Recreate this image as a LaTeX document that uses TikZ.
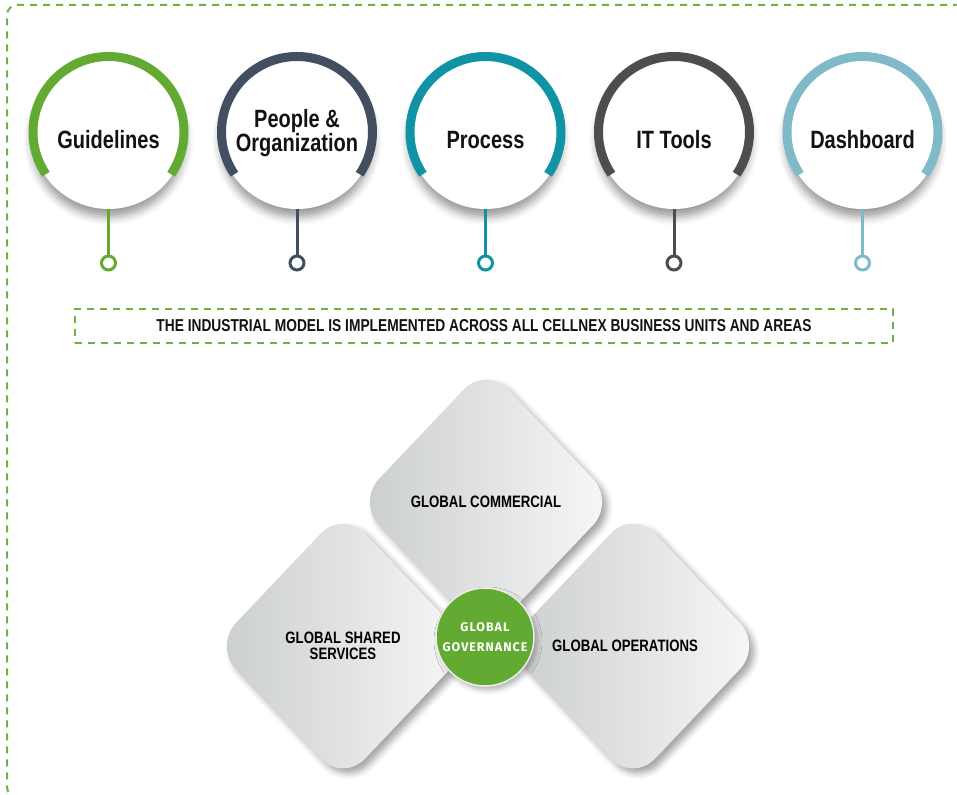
\documentclass[tikz,border=0pt]{standalone}
\usepackage{fontspec}
\newfontfamily\condfont[FakeStretch=0.8]{Liberation Sans}
\newfontfamily\govfont[LetterSpace=8]{Fira Sans}
\usetikzlibrary{positioning}
\usetikzlibrary{shapes.geometric}
\usetikzlibrary{shadows.blur}

\definecolor{cxgreen}{HTML}{62AA31}
\definecolor{cxslate}{HTML}{414F61}
\definecolor{cxteal}{HTML}{0F93A5}
\definecolor{cxgrey}{HTML}{4D4D4D}
\definecolor{cxsky}{HTML}{80B9C8}
\definecolor{cxdash}{HTML}{6DB33F}
\definecolor{tileL}{HTML}{CACDCE}
\definecolor{tileR}{HTML}{F8F8F8}

\tikzset{pillar/.style={circle, fill=white, minimum size=154pt, inner sep=0pt,
    blur shadow={shadow xshift=0pt, shadow yshift=-8pt, shadow opacity=40, shadow blur radius=8pt}}}
\tikzset{caption/.style={align=center, text=black!93, font=\condfont\bfseries\fontsize{25}{24}\selectfont}}
\tikzset{rim/.style={line width=9pt}}
\tikzset{stem/.style={line width=3pt}}
\tikzset{knob/.style={circle, draw=#1, line width=3pt, fill=white, minimum size=14pt, inner sep=0pt}}
\tikzset{frame/.style={cxdash, line width=2pt, dash pattern=on 7pt off 6pt}}
\tikzset{unit/.style={diamond, aspect=1, minimum width=258pt, minimum height=272pt, inner sep=0pt,
    rounded corners=32pt, left color=tileL, right color=tileR, align=center,
    font=\condfont\bfseries\fontsize{16.5}{16}\selectfont,
    blur shadow={shadow xshift=5pt, shadow yshift=-5pt, shadow opacity=35, shadow blur radius=6pt}}}
\tikzset{hub/.style={circle, fill=cxgreen, draw=white!85!gray, line width=1.5pt, minimum size=98pt,
    inner sep=0pt, align=center, text=white, font=\govfont\bfseries\fontsize{12.5}{20}\selectfont,
    blur shadow={shadow xshift=3pt, shadow yshift=-4pt, shadow opacity=30, shadow blur radius=5pt}}}

\begin{document}
\begin{tikzpicture}[x=1pt, y=-1pt, on grid]
    \useasboundingbox (0,0) rectangle (957,794);

    % outer frame, open on the right
    \draw[frame, rounded corners=10pt] (960,5) -- (7,5) -- (7,797) -- (960,797);

    % the five pillars (y points down, so angles are mirrored)
    \node[pillar] (gl) at (108.5,132) {};
    \node[pillar, right=188.5pt of gl] (po) {};
    \node[pillar, right=188.5pt of po] (pr) {};
    \node[pillar, right=188.5pt of pr] (it) {};
    \node[pillar, right=188.5pt of it] (db) {};

    \draw[rim, cxgreen] ([shift={(146:75.5)}]gl.center) arc[start angle=146, end angle=394, radius=75.5];
    \draw[rim, cxslate] ([shift={(146:75.5)}]po.center) arc[start angle=146, end angle=394, radius=75.5];
    \draw[rim, cxteal]  ([shift={(146:75.5)}]pr.center) arc[start angle=146, end angle=394, radius=75.5];
    \draw[rim, cxgrey]  ([shift={(146:75.5)}]it.center) arc[start angle=146, end angle=394, radius=75.5];
    \draw[rim, cxsky]   ([shift={(146:75.5)}]db.center) arc[start angle=146, end angle=394, radius=75.5];

    \node[caption, below=8pt of gl] (glt) {Guidelines};
    \node[caption, below=1pt of po] (pot) {People \&\\Organization};
    \node[caption, below=8pt of pr] (prt) {Process};
    \node[caption, below=8pt of it] (itt) {IT Tools};
    \node[caption, below=8pt of db] (dbt) {Dashboard};

    \node[knob=cxgreen, below=131pt of gl] (glk) {};
    \node[knob=cxslate, below=131pt of po] (pok) {};
    \node[knob=cxteal,  below=131pt of pr] (prk) {};
    \node[knob=cxgrey,  below=131pt of it] (itk) {};
    \node[knob=cxsky,   below=131pt of db] (dbk) {};

    \draw[stem, cxgreen] (gl.south) -- (glk);
    \draw[stem, cxslate] (po.south) -- (pok);
    \draw[stem, cxteal]  (pr.south) -- (prk);
    \draw[stem, cxgrey]  (it.south) -- (itk);
    \draw[stem, cxsky]   (db.south) -- (dbk);

    % banner
    \node[frame, draw, minimum width=818pt, minimum height=34pt, text=black!93,
          font=\condfont\bfseries\fontsize{17.2}{16}\selectfont] (model) at (484,326)
        {THE INDUSTRIAL MODEL IS IMPLEMENTED ACROSS ALL CELLNEX BUSINESS UNITS AND AREAS};

    % business units
    \node[unit] (com) at (486,502) {GLOBAL COMMERCIAL};
    \node[unit] (gss) at (343,646) {GLOBAL SHARED\\SERVICES};
    \node[unit] (ops) at (633,646) {\hspace*{-16pt}GLOBAL OPERATIONS};
    \node[hub] (gov) at (485,637) {GLOBAL\\GOVERNANCE};
\end{tikzpicture}
\end{document}
